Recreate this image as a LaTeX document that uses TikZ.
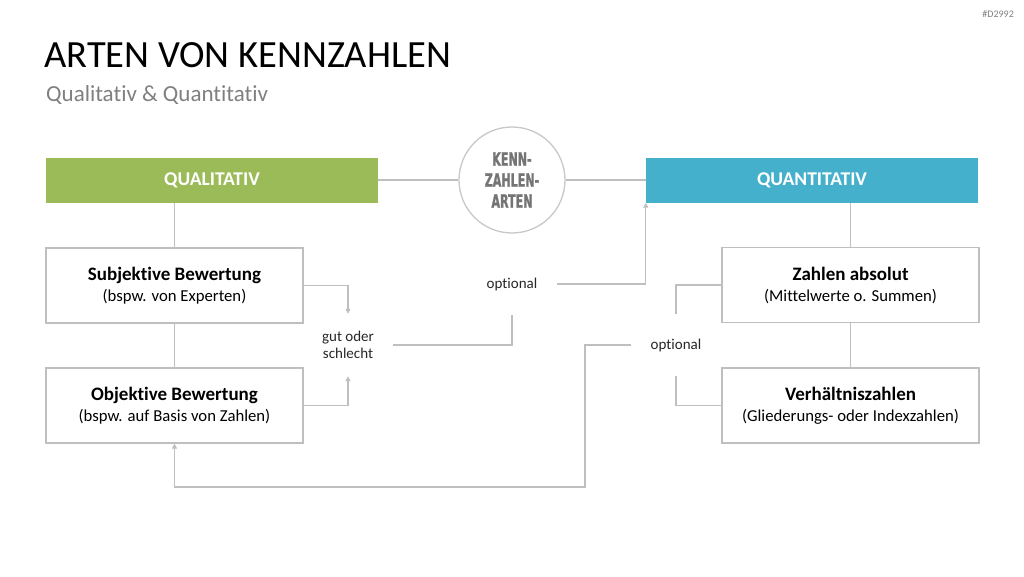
\documentclass[tikz,border=0pt]{standalone}
\usepackage{fontspec}
\setmainfont{Carlito}[RawFeature={-liga;-clig;-dlig;-calt;-hlig}]
\newfontfamily\condfont[FakeStretch=0.6,FakeBold=1.2]{DejaVu Sans}
\usetikzlibrary{arrows.meta}
\definecolor{qgreen}{HTML}{9BBB59}
\definecolor{qblue}{HTML}{45B0CC}
\definecolor{lgray}{HTML}{BFBFBF}
\definecolor{cgray}{HTML}{C8C8C8}
\definecolor{tgray}{HTML}{7F7F7F}
\definecolor{ctext}{HTML}{747474}
\definecolor{dtext}{HTML}{262626}
\begin{document}
\begin{tikzpicture}[x=1pt,y=-1pt,
  header/.style={rectangle, minimum width=332pt, minimum height=45pt, inner sep=0pt,
    text=white, font=\fontsize{19.5}{22}\selectfont\bfseries},
  infobox/.style={rectangle, draw=lgray, line width=1.2pt, fill=white,
    minimum width=257pt, minimum height=75pt, inner sep=0pt, align=center, text=black,
    font=\fontsize{16.7}{21}\selectfont},
  lbl/.style={rectangle, minimum width=90pt, minimum height=62pt, inner sep=0pt,
    align=center, text=dtext, font=\fontsize{15}{17}\selectfont},
  conn/.style={draw=lgray, line width=1.2pt},
  arr/.style={conn, -{Triangle[length=5pt,width=5pt]}, lgray},
]
\useasboundingbox (0,0) rectangle (1024,576);

\node[anchor=base east, inner sep=0pt, text=tgray, font=\fontsize{10}{11}\selectfont] (code) at (1014,17) {\#D2992};
\node[anchor=base west, inner sep=0pt, text=black, font=\fontsize{38.5}{44}\selectfont] (title) at (44,67) {ARTEN VON KENNZAHLEN};
\node[anchor=base west, inner sep=0pt, text=tgray, font=\fontsize{23}{27}\selectfont] (subtitle) at (46,101) {Qualitativ \& Quantitativ};

\node[header, fill=qgreen] (qual) at (212,180) {QUALITATIV};
\node[header, fill=qblue] (quant) at (812,180) {QUANTITATIV};
\node[circle, draw=cgray, line width=1.3pt, minimum size=106pt, inner sep=0pt, align=center,
  text=ctext, font=\condfont\bfseries\fontsize{18.5}{21}\selectfont] (circ) at (512,180) {KENN-\\ZAHLEN-\\ARTEN};

\node[infobox] (subj) at (174.5,285.5) {{\fontsize{19}{21}\selectfont\bfseries Subjektive Bewertung}\\(bspw. von Experten)};
\node[infobox] (obj) at (174.5,405.5) {{\fontsize{19}{21}\selectfont\bfseries Objektive Bewertung}\\(bspw. auf Basis von Zahlen)};
\node[infobox] (zahl) at (850.5,285) {{\fontsize{19}{21}\selectfont\bfseries Zahlen absolut}\\(Mittelwerte o. Summen)};
\node[infobox] (verh) at (850.5,405.5) {{\fontsize{19}{21}\selectfont\bfseries Verhältniszahlen}\\(Gliederungs- oder Indexzahlen)};

\node[lbl] (gut) at (348,345) {gut oder\\schlecht};
\node[lbl] (opt1) at (512,284) {optional};
\node[lbl] (opt2) at (676,345) {optional};
\coordinate (loop) at (585,487);

\draw[conn] (qual.east) -- (circ.west);
\draw[conn] (circ.east) -- (quant.west);
\draw[conn] (subj.north) -- (subj.north |- qual.south);
\draw[conn] (subj.south) -- (obj.north);
\draw[conn] (zahl.north) -- (zahl.north |- quant.south);
\draw[conn] (zahl.south) -- (verh.north);

\draw[arr] (subj.east) -| (gut.north);
\draw[arr] (obj.east) -| (gut.south);
\draw[conn] (gut.east) -| (opt1.south);
\draw[arr] (opt1.east) -| (quant.south west);
\draw[conn] (zahl.west) -| (opt2.north);
\draw[conn] (verh.west) -| (opt2.south);
\draw[arr] (opt2.west) -| (loop) -| (obj.south);
\end{tikzpicture}
\end{document}
